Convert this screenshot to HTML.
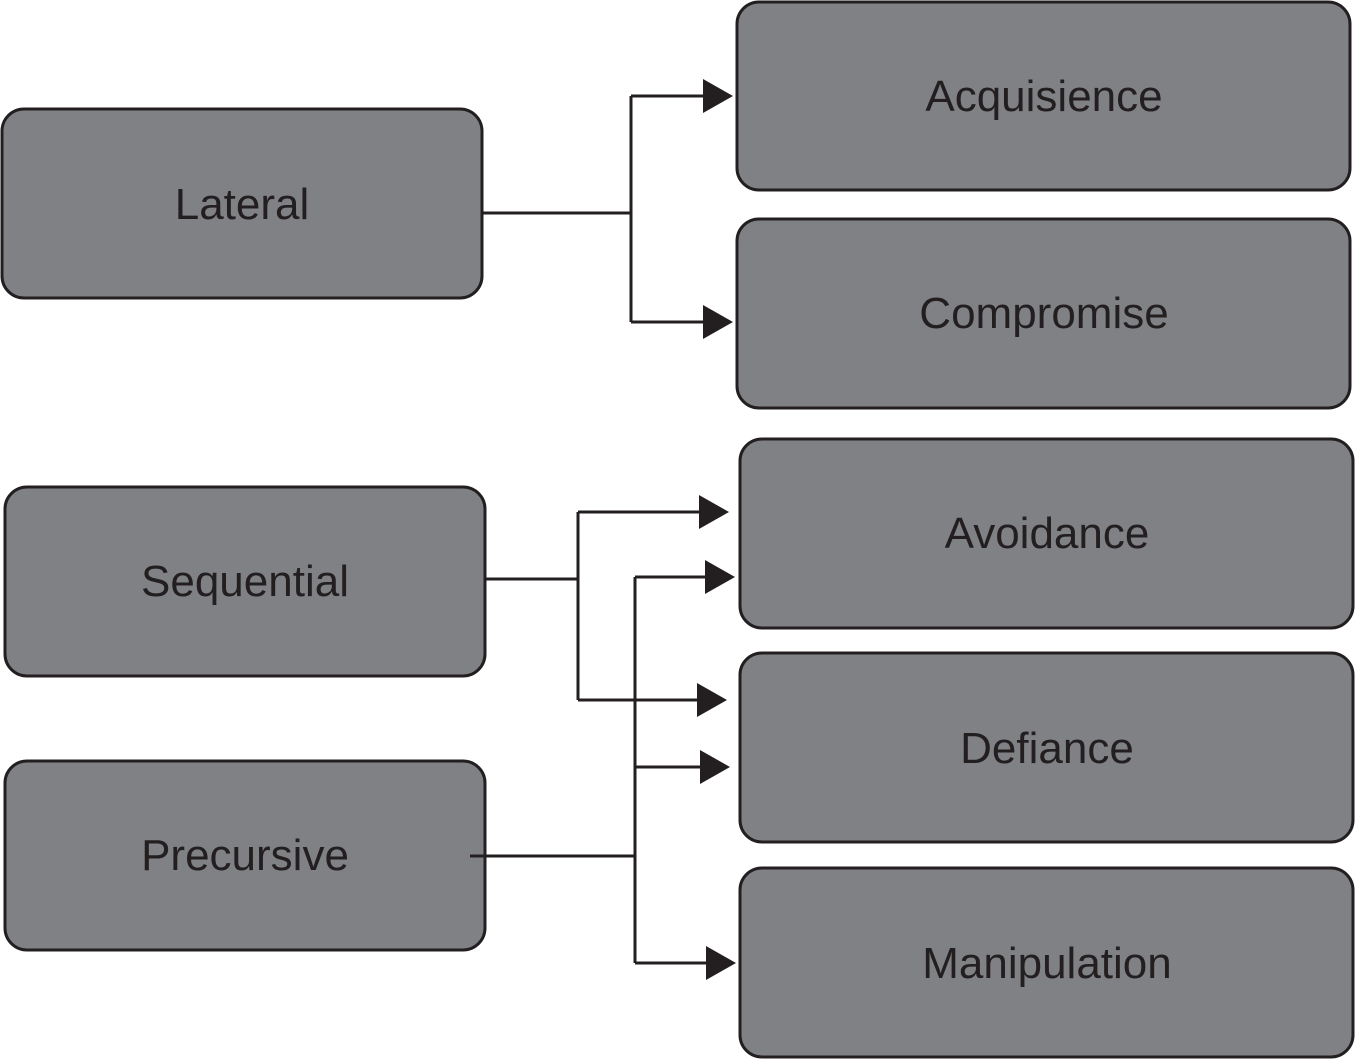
<!DOCTYPE html>
<html><head><meta charset="utf-8"><style>
html,body{margin:0;padding:0;background:#fff;width:1355px;height:1060px;overflow:hidden}
</style></head><body>
<svg width="1355" height="1060" xmlns="http://www.w3.org/2000/svg" font-family="Liberation Sans, sans-serif">
<g fill="#808184" stroke="#231f20" stroke-width="3">
<rect x="2" y="109" width="480" height="189" rx="22"/>
<rect x="737" y="2" width="613" height="188" rx="22"/>
<rect x="737" y="219" width="613" height="189" rx="22"/>
<rect x="740" y="439" width="613" height="189" rx="22"/>
<rect x="740" y="653" width="613" height="189" rx="22"/>
<rect x="740" y="868" width="613" height="189" rx="22"/>
<rect x="5" y="487" width="480" height="189" rx="22"/>
<rect x="5" y="761" width="480" height="189" rx="22"/>
</g>
<g fill="none" stroke="#231f20" stroke-width="3">
<path d="M482 213H631M631 96V322M631 96H705M631 322H705"/>
<path d="M485 579H578M578 512V700M578 512H700M578 700H698"/>
<path d="M470 856H635M635 577V963M635 577H706M635 767H701M635 963H707"/>
</g>
<g fill="#231f20">
<polygon points="703,79 733,96 703,113"/>
<polygon points="703,305 733,322 703,339"/>
<polygon points="699,495 729,512 699,529"/>
<polygon points="697,683 727,700 697,717"/>
<polygon points="705,560 735,577 705,594"/>
<polygon points="700,750 730,767 700,784"/>
<polygon points="706,946 736,963 706,980"/>
</g>
<g fill="#231f20" font-size="44" text-anchor="middle">
<text x="242" y="219">Lateral</text>
<text x="1044" y="111">Acquisience</text>
<text x="1044" y="328">Compromise</text>
<text x="1047" y="548">Avoidance</text>
<text x="1047" y="763">Defiance</text>
<text x="1047" y="978">Manipulation</text>
<text x="245" y="596">Sequential</text>
<text x="245" y="870">Precursive</text>
</g>
</svg>
</body></html>
